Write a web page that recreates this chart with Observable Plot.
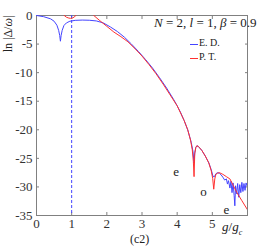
<!DOCTYPE html>
<html><head><meta charset="utf-8">
<script src="https://cdn.jsdelivr.net/npm/d3@7"></script>
<script src="https://cdn.jsdelivr.net/npm/@observablehq/plot@0.6"></script>
<style>
body{margin:0;background:#fff;font-family:"Liberation Serif","DejaVu Serif",serif;}
#wrap{position:relative;width:273px;height:246px;}
#wrap svg, #wrap svg text{font-family:"Liberation Serif",serif !important;}
.ov{position:absolute;font-family:"Liberation Serif",serif;color:#222;white-space:nowrap;line-height:1;}
.lg{display:flex;align-items:center;}
.sw{display:inline-block;width:8px;height:0;margin-right:1px;position:relative;top:1px;}
</style></head><body>
<div id="wrap"></div>
<script>
// E. D. (exact diagonalization)
const edX = [0,0.2,0.4,0.5,0.58,0.63,0.66,0.68,0.7,0.73,0.78,0.85,0.95,1.1,1.3,1.5,1.7,1.9,2.1,2.3,2.5,2.7,2.9,3.1,3.3,3.5,3.7,3.9,4.0,4.1,4.2,4.3,4.4,4.45,4.48,4.5,4.53,4.56,4.6,4.7,4.8,4.9,4.97,5.02,5.06,5.1,5.15,5.2,5.25,5.3,5.35,5.4,5.43,5.46,5.5,5.53,5.56,5.59,5.62,5.64,5.66,5.69,5.72,5.75,5.78,5.81,5.84,5.87,5.9,5.93,5.96,6.0];
const edY = [0,-0.2,-0.58,-1.0,-1.7,-2.6,-3.5,-4.5,-3.5,-2.6,-1.75,-1.3,-1.0,-0.85,-0.8,-0.83,-0.95,-1.3,-2.0,-2.8,-3.8,-5.0,-6.3,-7.7,-9.2,-10.9,-12.7,-14.7,-15.8,-17.0,-18.4,-20.0,-22.2,-23.8,-25.8,-24.0,-23.1,-22.8,-22.9,-23.6,-24.6,-25.8,-27.0,-28.2,-28.2,-27.7,-27.5,-27.6,-27.9,-28.3,-28.8,-28.6,-29.5,-28.9,-30.2,-29.0,-31.0,-29.3,-31.5,-33.3,-29.8,-31.2,-29.4,-31.8,-29.6,-31.0,-29.2,-30.8,-29.4,-30.6,-29.3,-30.0];
// P. T. (perturbation theory), two branches
const ptSeg = ["a","a","a","a","a","a","a","a","a",
  "b","b","b","b","b","b","b","b","b","b","b","b","b","b","b","b","b","b","b","b","b","b","b","b","b","b","b","b","b","b","b","b","b","b","b","b","b","b","b","b","b"];
const ptX = [0.7,0.78,0.85,0.92,0.97,1.02,1.08,1.12,1.2,
  1.55,1.63,1.8,2.0,2.2,2.4,2.6,2.8,3.0,3.2,3.4,3.6,3.8,4.0,4.2,4.3,4.38,4.43,4.46,4.48,4.5,4.53,4.56,4.6,4.7,4.8,4.9,4.97,5.01,5.04,5.07,5.1,5.15,5.2,5.3,5.4,5.5,5.6,5.7,5.84,6.0];
const ptY = [0.6,0.05,-0.3,-0.45,-0.5,-0.45,-0.25,0.05,0.6,
  0.5,0,-0.9,-1.9,-2.9,-3.7,-4.6,-5.8,-7.1,-8.6,-10.2,-12.0,-13.9,-15.8,-18.4,-20.0,-21.8,-23.5,-25.5,-28.2,-24.2,-23.1,-22.8,-22.9,-23.6,-24.6,-25.8,-27.2,-28.5,-30.4,-28.6,-27.8,-27.6,-27.5,-27.8,-28.2,-28.6,-29.8,-31.0,-32.4,-34.0];
const parityLabels = ["e","o","e"];
const parityX = [3.97,4.75,5.4];
const parityY = [-27.3,-30.9,-34.0];
const xTicks = [0,1,2,3,4,5];
const yTicks = [0,-5,-10,-15,-20,-25,-30,-35];
const gc = [1];

const ed = edX.map((x,i)=>({x, y: edY[i]}));
const pt = ptX.map((x,i)=>({x, y: ptY[i], s: ptSeg[i]}));
const par = parityLabels.map((t,i)=>({t, x: parityX[i], y: parityY[i]}));

const axisCol = "#808080";
const blue = "#4444ff", red = "#ff3030";
const plot = Plot.plot({
  width: 273, height: 246,
  marginLeft: 36, marginRight: 26, marginTop: 15, marginBottom: 31,
  style: {fontFamily: "'Liberation Serif', serif", fontSize: "12px", color: "#222", background: "#fff"},
  x: {domain: [0, 6], ticks: xTicks},
  y: {domain: [-35, 0], ticks: yTicks},
  marks: [
    Plot.frame({stroke: axisCol}),
    Plot.axisX({anchor: "bottom", ticks: xTicks, tickSize: -3, tickPadding: 6, stroke: axisCol, fill: "#333", label: null, fontSize: 13, tickFormat: d => String(d)}),
    Plot.axisX({anchor: "top", ticks: xTicks, tickSize: -3, stroke: axisCol, tickFormat: () => "", label: null}),
    Plot.axisY({anchor: "left", ticks: yTicks, tickSize: -3, tickPadding: 7, stroke: axisCol, fill: "#333", label: null, tickFormat: d => String(d), fontSize: 13}),
    Plot.axisY({anchor: "right", ticks: yTicks, tickSize: -3, stroke: axisCol, tickFormat: () => "", label: null}),
    Plot.ruleX(gc, {stroke: blue, strokeDasharray: "3,2", strokeWidth: 1}),
    Plot.line(ed, {x: "x", y: "y", stroke: blue, strokeWidth: 1, clip: true}),
    Plot.line(pt, {x: "x", y: "y", z: "s", stroke: red, strokeWidth: 1, clip: true}),
    Plot.text(par, {x: "x", y: "y", text: "t", fill: "#222", fontSize: 13})
  ]
});
const wrap = document.getElementById("wrap");
wrap.appendChild(plot);

function ov(html, left, top, extra, cls){
  const d = document.createElement("div");
  d.className = "ov" + (cls ? " " + cls : "");
  d.innerHTML = html;
  d.style.left = left + "px"; d.style.top = top + "px";
  if (extra) Object.assign(d.style, extra);
  wrap.appendChild(d);
  return d;
}
ov('<i>N</i> = 2, <i>l</i> = 1, <i>β</i> = 0.9', 154, 16, {fontSize: "13px"});
// legend
const names = ["E. D.", "P. T."];
const cols = [blue, red];
names.forEach((n,i)=>{
  ov('<span class="sw" style="border-top:1px solid '+cols[i]+'"></span><span>'+n+'</span>', 190, 38 + i*14, {fontSize: "10px"}, "lg");
});
ov('<i>g</i>/<i>g</i><sub style="font-size:8px;font-style:italic">c</sub>', 222, 220, {fontSize: "13px"});
ov('(c2)', 130, 233, {fontSize: "12px"});
ov('ln |Δ/<i>ω</i>|', 8, 34, {fontSize: "12px", transform: "translate(-50%,-50%) rotate(-90deg)"});
</script>
</body></html>
